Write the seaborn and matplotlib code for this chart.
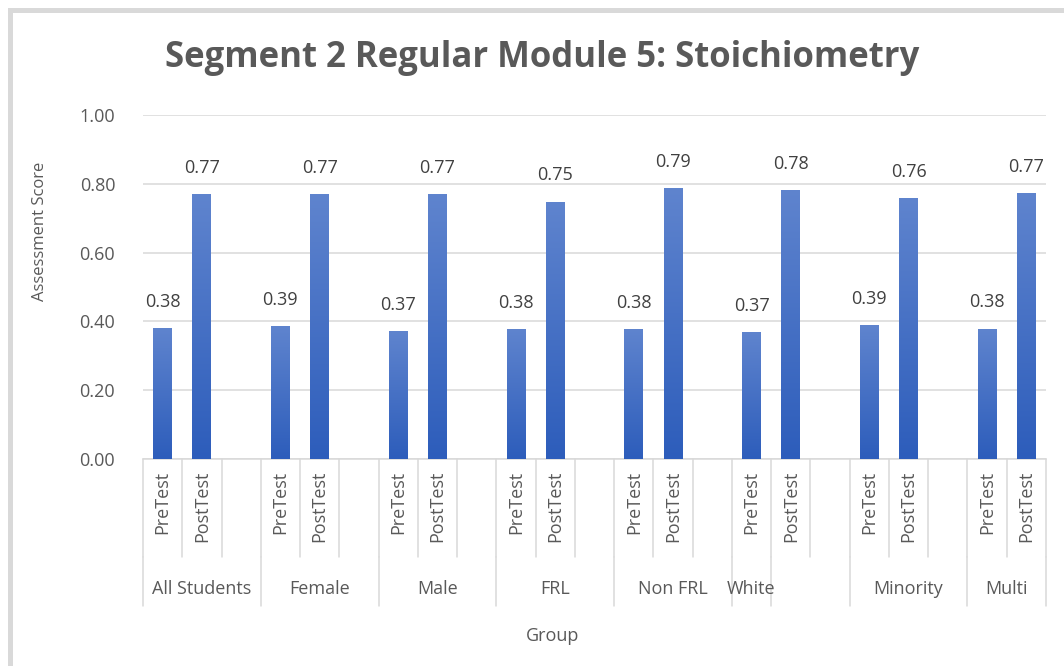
import numpy as np
import pandas as pd
import seaborn as sns
import matplotlib
matplotlib.use("Agg")
import matplotlib.pyplot as plt
from matplotlib.colors import LinearSegmentedColormap
from matplotlib.patches import Rectangle
import matplotlib.transforms as mtransforms

sns.set_theme(style="white")
plt.rcParams['font.family'] = ['Open Sans', 'DejaVu Sans']

groups = ["All Students", "Female", "Male", "FRL", "Non FRL", "White", "Minority", "Multi"]
tests = ["PreTest", "PostTest"]
pre_scores = [0.381, 0.386, 0.372, 0.378, 0.378, 0.368, 0.389, 0.379]
post_scores = [0.770, 0.770, 0.770, 0.748, 0.787, 0.782, 0.759, 0.774]

rows = []
for g, pre, post in zip(groups, pre_scores, post_scores):
    rows.append((g, "PreTest", pre))
    rows.append((g, "PostTest", post))
df = pd.DataFrame(rows, columns=["group", "test", "score"])
df["slot"] = df["group"] + "|" + df["test"]

# excel-style layout: pre, post, empty gap per group (no gap after last)
order = []
for i, g in enumerate(groups):
    order += [g + "|PreTest", g + "|PostTest"]
    if i < len(groups) - 1:
        order.append(g + "|")

grey_txt = "#595959"
fig = plt.figure(figsize=(10.64, 6.66), dpi=100)
ax = fig.add_axes([143 / 1064, 1 - 459 / 666, (1046 - 143) / 1064, (459 - 115) / 666])

sns.barplot(data=df, x="slot", y="score", order=order, color="#4472C4",
            width=0.48, ax=ax, errorbar=None, zorder=3)

# gradient fill like the excel bars
cmap = LinearSegmentedColormap.from_list("bar", ["#2D5DBB", "#5F84CE"])
grad = np.linspace(0, 1, 256).reshape(-1, 1)
for p in ax.patches:
    x0, w, h = p.get_x(), p.get_width(), p.get_height()
    p.set_facecolor("none")
    p.set_edgecolor("none")
    im = ax.imshow(grad, cmap=cmap, origin="lower", aspect="auto",
                   extent=[x0, x0 + w, 0, h], zorder=3)
    im.set_clip_path(p)
    ax.text(x0 + w / 2, h + 0.05, f"{h:.2f}", ha="center", va="bottom",
            fontsize=13, color="#404040")

ax.set_xlim(-0.5, len(order) - 0.5)
ax.set_ylim(0, 1.0)
ax.set_yticks(np.arange(0, 1.01, 0.2))
ax.set_yticklabels([f"{v:.2f}" for v in np.arange(0, 1.01, 0.2)], fontsize=13, color=grey_txt)
ax.tick_params(axis="y", length=0, pad=20)
ax.grid(axis="y", color="#D9D9D9", linewidth=1.1, zorder=0)
ax.set_axisbelow(True)
for s in ["top", "right", "left"]:
    ax.spines[s].set_visible(False)
ax.spines["bottom"].set_color("#D9D9D9")
ax.spines["bottom"].set_linewidth(1.1)
ax.set_xticks([])
ax.set_xlabel("")
ax.set_ylabel("")

# multi-level category axis
trans = mtransforms.blended_transform_factory(ax.transData, ax.transAxes)
inner_bot = -(557 - 459) / 344
outer_bot = -(606 - 459) / 344
for k in range(len(order) + 1):
    ax.plot([k - 0.5, k - 0.5], [0, inner_bot], transform=trans, color="#D9D9D9",
            lw=1.1, clip_on=False)
for i, slot in enumerate(order):
    test = slot.split("|")[1]
    if test:
        ax.text(i, -0.035, test, transform=trans, rotation=90, ha="center", va="top",
                fontsize=13, color=grey_txt)

# group label spans (as drawn in the source; "White" only spans its first slot)
label_spans = [(0, 2), (3, 5), (6, 8), (9, 11), (12, 14), (15, 15), (18, 20), (21, 22)]
edges = sorted({s for s, e in label_spans} | {e + 1 for s, e in label_spans})
for e in edges:
    ax.plot([e - 0.5, e - 0.5], [inner_bot, outer_bot], transform=trans, color="#D9D9D9",
            lw=1.1, clip_on=False)
for g, (s, e) in zip(groups, label_spans):
    ax.text((s + e) / 2, -(589 - 459) / 344, g, transform=trans, ha="center", va="center",
            fontsize=13, color=grey_txt)

fig.text(40 / 1064, 1 - 231 / 666, "Assessment Score", rotation=90, ha="center", va="center",
         fontsize=12, color=grey_txt)
fig.text(553 / 1064, 1 - 636 / 666, "Group", ha="center", va="center", fontsize=13, color=grey_txt)
fig.text(542 / 1064, 1 - 58 / 666, "Segment 2 Regular Module 5: Stoichiometry", ha="center",
         va="center", fontsize=25, fontweight="bold", color=grey_txt)

fig.patches.append(Rectangle((9.5 / 1064, -0.1), 1.2, (666 - 10.5) / 666 + 0.1,
                             transform=fig.transFigure, fill=False, edgecolor="#D9D9D9",
                             linewidth=3.6))

fig.savefig("out.png", dpi=100)
